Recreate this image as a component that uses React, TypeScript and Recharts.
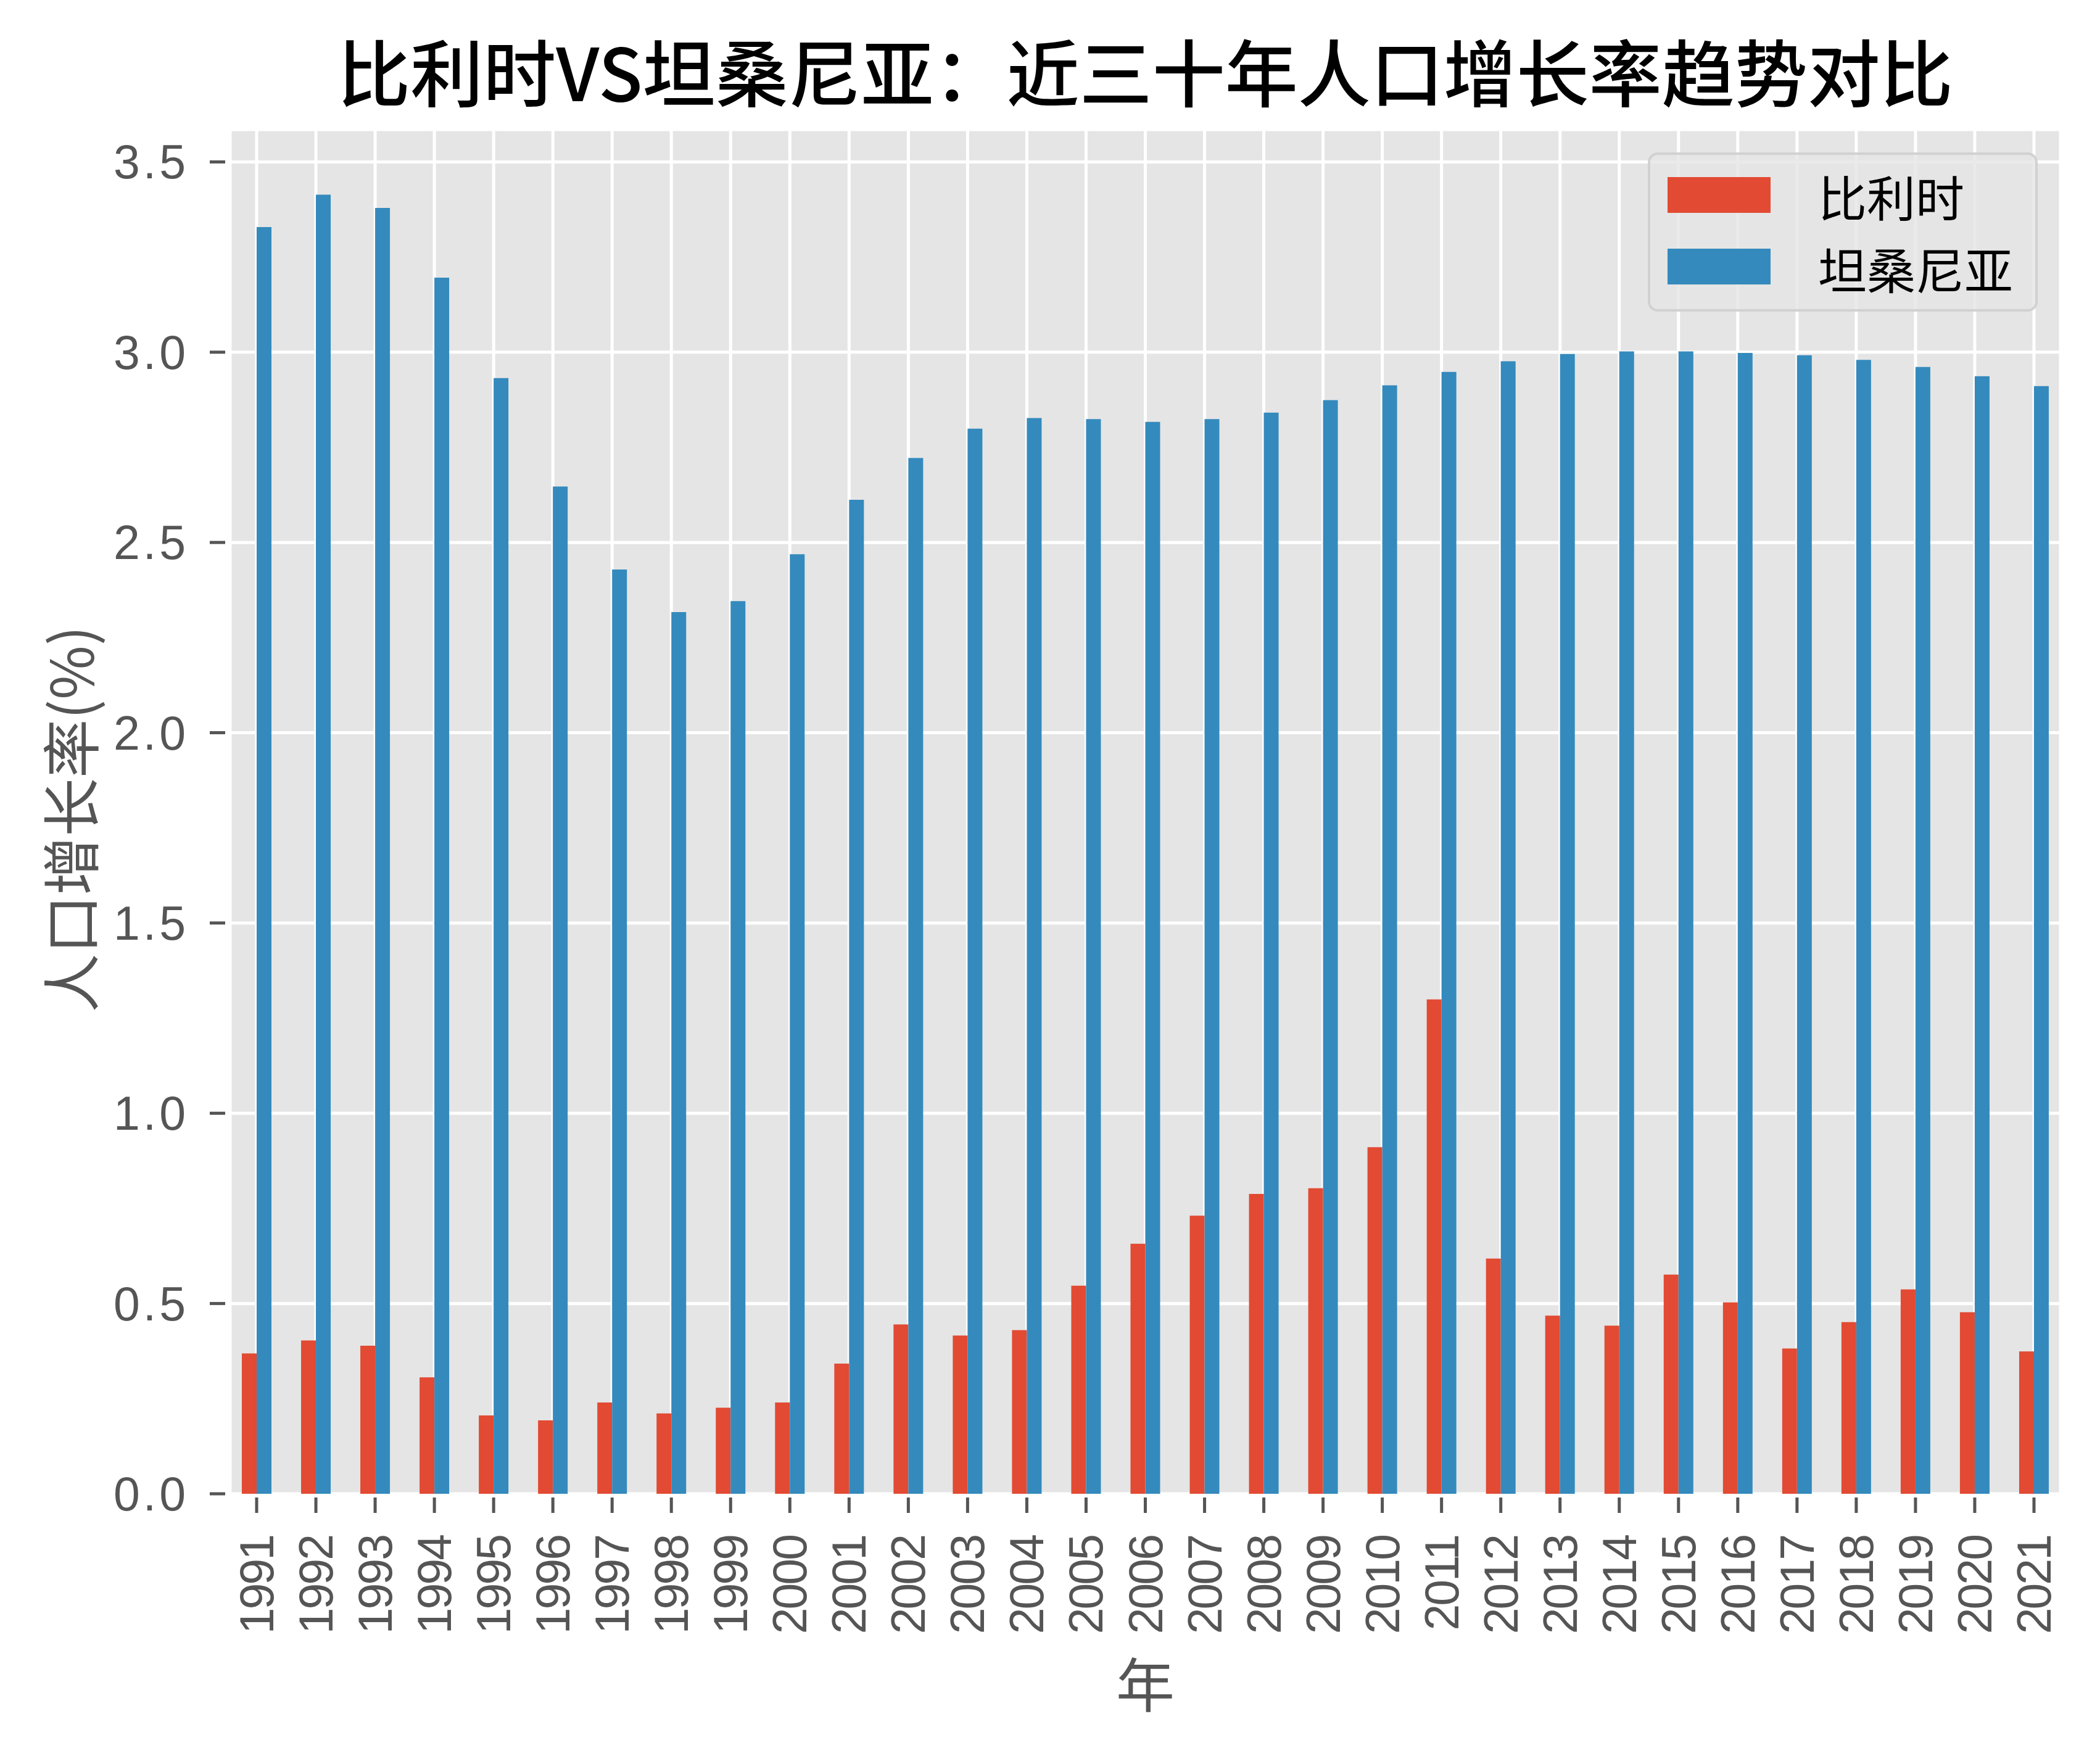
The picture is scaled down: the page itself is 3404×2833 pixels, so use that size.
import React from 'react';
import { BarChart, Bar, XAxis, YAxis, CartesianGrid, Legend } from 'recharts';

// ---------- data ----------
const years = [
  '1991', '1992', '1993', '1994', '1995', '1996', '1997', '1998', '1999', '2000',
  '2001', '2002', '2003', '2004', '2005', '2006', '2007', '2008', '2009', '2010',
  '2011', '2012', '2013', '2014', '2015', '2016', '2017', '2018', '2019', '2020', '2021',
];

const belgiumGrowth = [
  0.369, 0.403, 0.389, 0.306, 0.206, 0.193, 0.240, 0.211, 0.226, 0.240,
  0.342, 0.445, 0.416, 0.430, 0.547, 0.657, 0.731, 0.788, 0.803, 0.911,
  1.299, 0.618, 0.468, 0.442, 0.576, 0.503, 0.382, 0.451, 0.537, 0.477, 0.374,
];

const tanzaniaGrowth = [
  3.329, 3.414, 3.379, 3.196, 2.932, 2.647, 2.429, 2.317, 2.346, 2.469,
  2.612, 2.722, 2.799, 2.827, 2.824, 2.817, 2.824, 2.841, 2.874, 2.913,
  2.948, 2.976, 2.995, 3.002, 3.002, 2.998, 2.992, 2.980, 2.961, 2.937, 2.911,
];

const yTicks = [0, 0.5, 1, 1.5, 2, 2.5, 3, 3.5];
const seriesNames = ['比利时', '坦桑尼亚'];
const seriesColors = ['#E24A33', '#348ABD'];
const titleText = '比利时VS坦桑尼亚：近三十年人口增长率趋势对比';
const xLabelText = '年';
const yLabelText = '人口增长率(%)';

const chartData = years.map((year, i) => ({
  year,
  belgium: belgiumGrowth[i],
  tanzania: tanzaniaGrowth[i],
}));

// ---------- style ----------
const W = 3388;
const H = 2817;
const TICK_FONT = "'Liberation Sans', Arial, sans-serif";
const CJK_FONT = "'Noto Sans CJK SC', 'Noto Sans CJK JP', sans-serif";
const TICK_COLOR = '#555555';

const XTick = (props: any) => {
  const { x, y, payload } = props;
  const ty = y + 68;
  return (
    <g>
      <line x1={x} x2={x} y1={y + 6} y2={y + 31} stroke={TICK_COLOR} strokeWidth={5} />
      <text
        x={x}
        y={ty}
        transform={`rotate(-90, ${x}, ${ty})`}
        textAnchor="end"
        dominantBaseline="central"
        fill={TICK_COLOR}
        fontSize={77}
        fontFamily={TICK_FONT}
        letterSpacing={-3}
      >
        {payload.value}
      </text>
    </g>
  );
};

const YTick = (props: any) => {
  const { x, y, payload } = props;
  return (
    <g>
      <line x1={x - 33} x2={x - 8} y1={y} y2={y} stroke={TICK_COLOR} strokeWidth={5} />
      <text
        x={x - 67}
        y={y}
        textAnchor="end"
        dominantBaseline="central"
        fill={TICK_COLOR}
        fontSize={77}
        fontFamily={TICK_FONT}
        letterSpacing={5}
      >
        {Number(payload.value).toFixed(1)}
      </text>
    </g>
  );
};

const XLabel = (props: any) => {
  const vb = props.viewBox || { x: 365, y: 2413, width: 2967, height: 404 };
  return (
    <text
      x={vb.x + vb.width / 2}
      y={vb.y + 304}
      textAnchor="middle"
      dominantBaseline="central"
      fill={TICK_COLOR}
      fontSize={95}
      fontFamily={CJK_FONT}
    >
      {xLabelText}
    </text>
  );
};

const YLabel = (props: any) => {
  const vb = props.viewBox || { x: 0, y: 202, width: 365, height: 2211 };
  const cx = vb.x + 102;
  const cy = vb.y + vb.height / 2 + 12;
  return (
    <text
      x={cx}
      y={cy}
      transform={`rotate(-90, ${cx}, ${cy})`}
      textAnchor="middle"
      dominantBaseline="central"
      fill={TICK_COLOR}
      fontSize={95}
      fontFamily={CJK_FONT}
    >
      {yLabelText}
    </text>
  );
};

const renderLegend = (props: any) => {
  const payload = props.payload || [];
  const ordered = seriesNames
    .map((name) => payload.find((p: any) => p.value === name))
    .filter(Boolean);
  return (
    <div
      style={{
        width: 632,
        height: 258,
        boxSizing: 'border-box',
        background: 'rgba(229,229,229,0.8)',
        border: '4px solid rgba(204,204,204,0.8)',
        borderRadius: 16,
        position: 'relative',
      }}
    >
      {ordered.map((entry: any, i: number) => (
        <React.Fragment key={entry.value}>
          <div
            style={{
              position: 'absolute',
              left: 28,
              top: 36 + i * 116,
              width: 167,
              height: 58,
              background: entry.color,
            }}
          />
          <div
            style={{
              position: 'absolute',
              left: 272,
              top: 66 + i * 117 - 50,
              height: 100,
              display: 'flex',
              alignItems: 'center',
              fontSize: 79,
              lineHeight: 1,
              fontFamily: CJK_FONT,
              color: '#000000',
              whiteSpace: 'nowrap',
            }}
          >
            {entry.value}
          </div>
        </React.Fragment>
      ))}
    </div>
  );
};

export default function App() {
  return (
    <div style={{ position: 'relative', width: W, height: H, background: '#ffffff' }}>
      <div
        style={{
          position: 'absolute',
          left: 365,
          width: 2967,
          top: 105 - 59,
          height: 118,
          lineHeight: '118px',
          textAlign: 'center',
          fontSize: 118,
          fontFamily: CJK_FONT,
          fontWeight: 500,
          color: '#000000',
          whiteSpace: 'nowrap',
        }}
      >
        {titleText}
      </div>
      <BarChart
        width={W}
        height={H}
        data={chartData}
        margin={{ top: 202, right: 56, left: 0, bottom: 0 }}
        barCategoryGap="25%"
        barGap={0}
      >
        <CartesianGrid fill="#E5E5E5" stroke="#FFFFFF" strokeWidth={5} />
        <XAxis
          dataKey="year"
          height={404}
          interval={0}
          tickLine={false}
          axisLine={false}
          tickSize={0}
          tickMargin={0}
          tick={<XTick />}
          padding={{ left: -5, right: -5 }}
          label={<XLabel />}
        />
        <YAxis
          width={365}
          domain={[0, 3.585]}
          ticks={yTicks}
          tickLine={false}
          axisLine={false}
          tickSize={0}
          tickMargin={0}
          tick={<YTick />}
          label={<YLabel />}
        />
        <Legend
          layout="horizontal"
          verticalAlign="middle"
          align="center"
          content={renderLegend}
          wrapperStyle={{ left: 2663, top: 239, width: 632, height: 258 }}
        />
        <Bar dataKey="belgium" name={seriesNames[0]} fill={seriesColors[0]} isAnimationActive={false} />
        <Bar dataKey="tanzania" name={seriesNames[1]} fill={seriesColors[1]} isAnimationActive={false} />
      </BarChart>
    </div>
  );
}
